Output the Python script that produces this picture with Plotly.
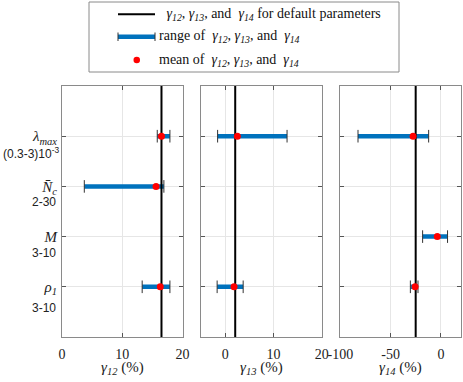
import plotly.graph_objects as go
from plotly.subplots import make_subplots

# rows: lambda_max, N_c, M, rho_1 (top to bottom)
rows = [1, 2, 3, 4]
row_names = ["<i>λ</i><sub><i>max</i></sub>", "<i>N̄</i><sub><i>c</i></sub>",
             "<i>M</i>", "<i>ρ</i><sub><i>1</i></sub>"]
row_ranges = ["(0.3-3)10<sup>-3</sup>", "2-30", "3-10", "3-10"]

# gamma_12 (%)
g12_lo = [15.8, 3.7, None, 13.3]
g12_hi = [17.9, 16.9, None, 17.9]
g12_mean = [16.5, 15.6, None, 16.3]
g12_default = 16.5

# gamma_13 (%)
g13_lo = [-1.6, None, None, -1.7]
g13_hi = [12.8, None, None, 3.7]
g13_mean = [2.5, None, None, 1.8]
g13_default = 2.05

# gamma_14 (%)
g14_lo = [-82.5, None, -18.2, -30.4]
g14_hi = [-12.2, None, 6.6, -22.8]
g14_mean = [-27.7, None, -3.6, -25.7]
g14_default = -25.1

panels = [
    (g12_lo, g12_hi, g12_mean, g12_default, "12", [0, 20], [0, 10, 20], ["0", "10", "20"]),
    (g13_lo, g13_hi, g13_mean, g13_default, "13", [-5, 20], [0, 10, 20], ["0", "10", "20"]),
    (g14_lo, g14_hi, g14_mean, g14_default, "14", [-100, 20], [-100, -50, 0], ["-100", "-50", "0"]),
]

BLUE = "#0072BD"
SERIF = "Liberation Serif, Times New Roman, DejaVu Serif, serif"
SANS = "Liberation Sans, Arial, sans-serif"
W, H = 463, 382
ML, MR, MT, MB = 62, 2, 86, 45


def px_x(p):
    return (p - ML) / (W - ML - MR)


def px_y(p):
    return (H - MB - p) / (H - MT - MB)


fig = make_subplots(rows=1, cols=3, horizontal_spacing=0.0467)

for i, (lo, hi, mean, default, sub, xr, xt, xtt) in enumerate(panels, start=1):
    bx, by, cx, cy = [], [], [], []
    for r, a, b in zip(rows, lo, hi):
        if a is None:
            continue
        bx += [a, b, None]
        by += [r, r, None]
        cx += [a, b]
        cy += [r, r]
    fig.add_trace(go.Scatter(x=bx, y=by, mode="lines", line=dict(color=BLUE, width=4.5),
                             showlegend=False, hoverinfo="skip"), row=1, col=i)
    fig.add_trace(go.Scatter(x=cx, y=cy, mode="markers",
                             marker=dict(symbol="line-ns", size=9, line=dict(width=1, color="#333333")),
                             showlegend=False), row=1, col=i)
    fig.add_trace(go.Scatter(x=[default, default], y=[0, 5], mode="lines",
                             line=dict(color="black", width=2), showlegend=False), row=1, col=i)
    mx = [m for m in mean if m is not None]
    my = [r for r, m in zip(rows, mean) if m is not None]
    fig.add_trace(go.Scatter(x=mx, y=my, mode="markers",
                             marker=dict(color="red", size=7), showlegend=False), row=1, col=i)

    fig.update_xaxes(range=xr, tickvals=xt, ticktext=xtt, row=1, col=i)
    fig.update_yaxes(range=[5, 0], tickvals=rows,
                     ticktext=row_names if i == 1 else None,
                     showticklabels=(i == 1), row=1, col=i)
    xname = "x" if i == 1 else f"x{i}"
    fig.add_annotation(x=0.5, xref=f"{xname} domain", y=px_y(368), yref="paper",
                       text=f"<i>γ</i><sub><i>{sub}</i></sub> (%)", showarrow=False,
                       yanchor="middle", font=dict(family=SERIF, size=15, color="#222"))

fig.update_xaxes(showgrid=True, gridcolor="#e6e6e6", zeroline=False, showline=True,
                 linecolor="#8a8a8a", linewidth=1, mirror="ticks", ticks="inside",
                 ticklen=4, tickcolor="#555", automargin=False, ticklabelstandoff=4,
                 tickfont=dict(family=SERIF, size=14, color="#222"))
fig.update_yaxes(showgrid=True, gridcolor="#e6e6e6", zeroline=False, showline=True,
                 linecolor="#8a8a8a", linewidth=1, mirror="ticks", ticks="inside",
                 ticklen=4, tickcolor="#555", ticklabelstandoff=1, automargin=False,
                 tickfont=dict(family=SERIF, size=15, color="#222"))

# second line of the y labels (parameter ranges)
offsets = [0.34, 0.31, 0.32, 0.42]
for r, txt, off in zip(rows, row_ranges, offsets):
    fig.add_annotation(x=0, xref="paper", y=r + off, yref="y", text=txt + ("" if r == 1 else "\u00a0"),
                       showarrow=False, xanchor="right", yanchor="middle", xshift=-1,
                       font=dict(family=SANS, size=12, color="#222"))

# legend box drawn by hand (MATLAB style)
g = "<i>γ</i><sub><i>12</i></sub>, <i>γ</i><sub><i>13</i></sub>, and \u00a0<i>γ</i><sub><i>14</i></sub>"
fig.add_shape(type="rect", xref="paper", yref="paper", x0=px_x(89), x1=px_x(399),
              y0=px_y(72), y1=px_y(2), line=dict(color="#8a8a8a", width=1), fillcolor="white")
y1, y2, y3 = px_y(14.3), px_y(36.7), px_y(60)
fig.add_shape(type="line", xref="paper", yref="paper", x0=px_x(118), x1=px_x(155), y0=y1, y1=y1,
              line=dict(color="black", width=2))
fig.add_shape(type="line", xref="paper", yref="paper", x0=px_x(118), x1=px_x(155), y0=y2, y1=y2,
              line=dict(color=BLUE, width=4.5))
for xc in (118, 155):
    fig.add_shape(type="line", xref="paper", yref="paper", x0=px_x(xc), x1=px_x(xc),
                  y0=px_y(32.5), y1=px_y(41), line=dict(color="#333333", width=1))
fig.add_shape(type="circle", xref="paper", yref="paper", x0=px_x(133.5), x1=px_x(140),
              y0=px_y(63.3), y1=px_y(56.8), line=dict(width=0), fillcolor="red")
leg_font = dict(family=SERIF, size=14, color="#111")
for yy, xx, txt in [(y1, 161, "\u00a0" + g + " for default parameters"),
                    (y2, 157, "range of \u00a0" + g),
                    (y3, 157, "mean of \u00a0" + g)]:
    fig.add_annotation(x=px_x(xx), y=yy, xref="paper", yref="paper", xanchor="left",
                       yanchor="middle", text=txt, showarrow=False, font=leg_font)

fig.update_layout(width=W, height=H, margin=dict(l=ML, r=MR, t=MT, b=MB, autoexpand=False),
                  plot_bgcolor="white", paper_bgcolor="white", showlegend=False)

# the page's default body margin would shift the figure by 8 px
fig.write_html("out.html", config={"displayModeBar": False},
               post_script="document.body.style.margin='0';"
               "document.body.style.overflow='hidden';")
